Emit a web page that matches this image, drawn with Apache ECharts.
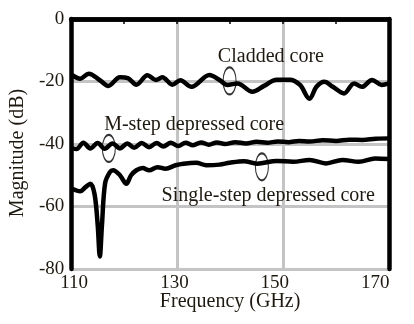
<!DOCTYPE html>
<html style="height: 100%; margin: 0">
<head>
<meta charset="UTF-8">
<title>Magnitude vs Frequency</title>
</head>
<body style="height: 100%; margin: 0; background: #fff">
<div id="container" style="width:414px; height:324px"></div>
<script type="text/javascript" src="https://cdn.jsdelivr.net/npm/echarts@6.0.0/dist/echarts.min.js"></script>
<script type="text/javascript">
	// values
	var xTicks = [110, 130, 150, 170];

	var cladFreq = [110.2, 111.7, 113.3, 115.4, 117.0, 119.2, 120.7, 122.3, 124.4, 126.0, 127.2, 129.1, 130.6, 132.7, 136.1, 138.0,
		139.5, 141.4, 144.2, 146.4, 148.8, 151.3, 153.2, 155.0, 156.3, 157.8, 159.4, 161.5, 163.4, 164.9, 166.8, 168.6, 170.0];
	var cladMag = [-18.0, -19.1, -17.5, -19.6, -21.4, -18.6, -18.9, -21.0, -18.0, -19.5, -18.6, -21.0, -19.6, -21.7, -17.9, -19.5,
		-21.1, -20.6, -23.3, -21.4, -19.4, -19.4, -21.1, -25.5, -21.7, -20.1, -21.7, -23.8, -20.6, -21.7, -19.5, -21.1, -20.6];

	var mstepFreq = [110.1, 111.0, 112.3, 113.6, 115.0, 116.3, 117.8, 119.2, 120.6, 121.9, 123.3, 124.7, 126.1, 127.4, 128.8, 130.2,
		131.6, 133.0, 134.5, 136.0, 137.5, 139.0, 141.0, 143.0, 145.0, 147.0, 149.0, 151.0, 153.0, 155.0, 157.5, 160.0, 162.5, 165.0, 167.5, 170.0];
	var mstepMag = [-41.3, -41.6, -39.6, -41.4, -39.7, -41.5, -39.8, -41.4, -39.8, -41.2, -39.7, -41.0, -39.7, -40.8, -39.6, -40.6,
		-39.6, -40.4, -39.5, -40.2, -39.5, -40.0, -39.4, -39.8, -39.3, -39.6, -39.2, -39.4, -39.0, -39.2, -38.8, -39.0, -38.6, -38.7, -38.3, -38.2];

	var singleFreq = [110.2, 111.7, 112.7, 113.6, 114.4, 115.0, 115.4, 115.8, 116.4, 117.3, 117.9, 119.2, 120.4, 121.3, 122.3, 123.5,
		124.7, 126.3, 127.8, 129.7, 131.2, 133.6, 135.5, 138.0, 139.9, 142.6, 145.1, 148.8, 151.9, 155.0, 158.1, 161.2, 164.3, 167.4, 170.0];
	var singleMag = [-54.3, -55.1, -53.8, -52.7, -56.0, -66.0, -76.0, -66.0, -52.5, -49.0, -48.4, -50.0, -52.7, -50.0, -48.4, -47.7,
		-48.4, -47.4, -47.9, -46.8, -46.3, -46.0, -46.8, -46.6, -46.0, -45.5, -46.3, -45.4, -45.7, -45.1, -46.2, -45.1, -45.7, -44.6, -44.8];

	// annotation ellipses and texts
	var ringFreq = [139.9, 117.1, 146.0];
	var ringMag = [-19.8, -41.4, -47.3];
	var noteText = ['Cladded core', 'M-step depressed core', 'Single-step depressed core'];
	var noteFreq = [147.7, 133.2, 147.2];
	var noteMag = [-12.2, -33.9, -56.6];

	function pairs(xs, ys) {
		var out = [];
		for (var i = 0; i < xs.length; i++) {
			out.push([xs[i], ys[i]]);
		}
		return out;
	}

	var textColor = '#1e1910';
	var font = '"Liberation Serif", "DejaVu Serif", serif';
	var frame = { show: true, lineStyle: { color: '#000', width: 4.5 } };

	var curve = function (name, data) {
		return {
			name: name,
			type: 'line',
			smooth: 0.35,
			showSymbol: false,
			symbol: 'none',
			xAxisIndex: 0,
			yAxisIndex: 0,
			lineStyle: { color: '#000', width: 4.5 },
			data: data,
			z: 3
		};
	};

	var notes = [];
	for (var i = 0; i < noteText.length; i++) {
		notes.push([noteFreq[i], noteMag[i], noteText[i]]);
	}

	var dom = document.getElementById("container");
	var myChart = echarts.init(dom, null, { renderer: 'canvas' });
	var option = {
		animation: false,
		backgroundColor: '#fff',
		grid: { left: 66, right: 25, top: 19, bottom: 55 },
		xAxis: [
			{
				type: 'value',
				position: 'bottom',
				min: 110,
				max: 170,
				interval: 20,
				axisLine: frame,
				axisTick: { show: false },
				axisLabel: { show: false },
				splitLine: { show: true, lineStyle: { color: '#c4c4c4', width: 3 } },
				name: 'Frequency (GHz)',
				nameLocation: 'middle',
				nameGap: 23,
				nameTextStyle: { fontFamily: font, fontSize: 20, color: textColor }
			},
			{
				type: 'value',
				position: 'top',
				min: 110,
				max: 170,
				interval: 10,
				axisLine: frame,
				axisTick: { show: true, inside: true, length: 5, lineStyle: { color: '#000', width: 1.5 } },
				axisLabel: { show: false },
				splitLine: { show: false }
			},
			{
				// tick labels of the reference sit slightly off the grid lines
				type: 'value',
				position: 'bottom',
				min: 109.41,
				max: 172.75,
				axisLine: { show: false },
				axisTick: { show: false },
				splitLine: { show: false },
				axisLabel: {
					customValues: xTicks,
					margin: 5,
					fontFamily: font,
					fontSize: 19,
					color: textColor
				}
			}
		],
		yAxis: [
			{
				type: 'value',
				position: 'left',
				min: -80,
				max: 0,
				interval: 20,
				axisLine: frame,
				axisTick: { show: false },
				axisLabel: { margin: 7, fontFamily: font, fontSize: 19, color: textColor },
				splitLine: { show: true, lineStyle: { color: '#c4c4c4', width: 3 } },
				name: 'Magnitude (dB)',
				nameLocation: 'middle',
				nameGap: 38,
				nameTextStyle: { fontFamily: font, fontSize: 20, color: textColor, padding: [0, 18, 0, 0] }
			},
			{
				type: 'value',
				position: 'right',
				min: -80,
				max: 0,
				axisLine: frame,
				axisTick: { show: false },
				axisLabel: { show: false },
				splitLine: { show: false }
			}
		],
		series: [
			curve('Cladded core', pairs(cladFreq, cladMag)),
			curve('M-step depressed core', pairs(mstepFreq, mstepMag)),
			curve('Single-step depressed core', pairs(singleFreq, singleMag)),
			{
				type: 'scatter',
				xAxisIndex: 0,
				yAxisIndex: 0,
				symbol: 'circle',
				symbolSize: [13, 27],
				itemStyle: { color: 'rgba(0,0,0,0)', borderColor: '#000', borderWidth: 1.5 },
				data: pairs(ringFreq, ringMag),
				z: 4
			},
			{
				type: 'scatter',
				xAxisIndex: 0,
				yAxisIndex: 0,
				symbolSize: 1,
				itemStyle: { color: 'rgba(0,0,0,0)' },
				label: {
					show: true,
					position: 'inside',
					formatter: function (p) { return p.data[2]; },
					fontFamily: font,
					fontSize: 20,
					color: textColor,
					opacity: 1,
					textBorderWidth: 0
				},
				data: notes,
				z: 5
			}
		]
	};
	if (option && typeof option === "object") {
		myChart.setOption(option, true);
	}
</script>
</body>
</html>
